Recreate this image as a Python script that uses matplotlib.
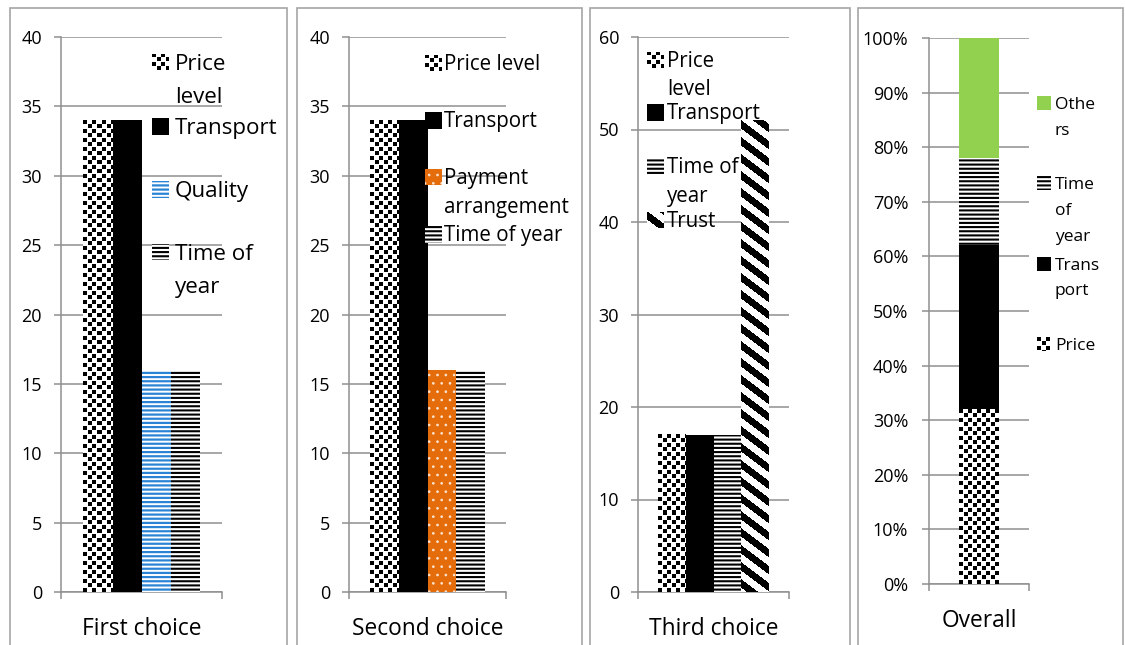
import numpy as np
import matplotlib.pyplot as plt
from matplotlib.colors import to_rgb
from matplotlib.patches import Rectangle

plt.rcParams['font.family'] = ['Open Sans', 'DejaVu Sans']

# -- survey answers per choice
first_labels = ['Price level', 'Transport', 'Quality', 'Time of year']
first_values = [34, 34, 16, 16]
second_labels = ['Price level', 'Transport', 'Payment arrangement', 'Time of year']
second_values = [34, 34, 16, 16]
third_labels = ['Price level', 'Transport', 'Time of year', 'Trust']
third_values = [17, 17, 17, 51]
overall_labels = ['Price', 'Transport', 'Time of year', 'Others']
overall_values = [32, 30, 16, 22]  # percent of all answers

W, H = 1125, 645
fig = plt.figure(figsize=(W / 100, H / 100), dpi=100)

GRID = '#8f8f8f'

# fill style per factor: face, edge (= hatch colour), hatch, hatch width, texture
styles = {
    'Price level': ('white', 'white', None, 1.0, 'confetti'),
    'Price': ('white', 'white', None, 1.0, 'confetti'),
    'Transport': ('black', 'black', None, 1.0, None),
    'Quality': ('white', '#2a83d4', '----', 1.6, None),
    'Time of year': ('white', 'black', '----', 1.5, None),
    'Payment arrangement': ('#e46c0a', '#fbe3cf', '..', 0.7, None),
    'Trust': ('white', 'white', None, 1.0, 'stripes'),
    'Others': ('#92d050', '#92d050', None, 1.0, None),
}


def pattern(kind, r, c):
    if kind == 'confetti':
        # staggered small black squares
        return ((r % 9 < 4) & (c % 9 < 4)) | ((r % 9 >= 4) & (r % 9 < 8) & (c % 9 >= 5))
    # wide stripes running down to the right
    return ((r - 0.75 * c) % 17) < 8.5


def texture(ax, patch, kind):
    x0, y0 = patch.get_x(), patch.get_y()
    x1, y1 = x0 + patch.get_width(), y0 + patch.get_height()
    (p0, q0), (p1, q1) = ax.transData.transform([(x0, y0), (x1, y1)])
    w, h = max(int(round(p1 - p0)), 1), max(int(round(q1 - q0)), 1)
    r, c = np.mgrid[0:h, 0:w]
    mask = pattern(kind, r, c)
    img = np.where(mask[..., None], np.array(to_rgb('black')), np.array(to_rgb('white')))
    ax.imshow(img, extent=(x0, x1, y0, y1), aspect='auto',
              interpolation='nearest', zorder=patch.get_zorder() + 0.1)


def paint(ax, patch, name):
    fc, ec, hatch, hlw, tex = styles[name]
    patch.set_facecolor(fc)
    patch.set_edgecolor(ec)
    patch.set_linewidth(0)
    if hatch:
        patch.set_hatch(hatch)
        if hasattr(patch, 'set_hatch_linewidth'):
            patch.set_hatch_linewidth(hlw)
    if tex:
        texture(ax, patch, tex)


def px_axes(l, r, t, b):
    return fig.add_axes([l / W, 1 - b / H, (r - l) / W, (b - t) / H])


def setup(ax, ymax, step, xlabel, pct=False, ypad=8.6):
    ax.set_xlim(-0.5, 0.5)
    ax.set_ylim(0, ymax)
    ticks = list(range(0, ymax + 1, step))
    ax.set_yticks(ticks)
    if pct:
        ax.set_yticklabels([f'{t}%' for t in ticks])
    ax.set_xticks([0])
    ax.set_xticklabels([xlabel], fontsize=16.4)
    ax.set_xticks([-0.5, 0.5], minor=True)
    ax.tick_params(axis='x', which='major', length=0, pad=18)
    ax.tick_params(axis='x', which='minor', length=5, width=1.1, color=GRID)
    ax.tick_params(axis='y', length=5, width=1.1, color=GRID, labelsize=13, pad=ypad)
    for s in ['top', 'right']:
        ax.spines[s].set_visible(False)
    for s in ['left', 'bottom']:
        ax.spines[s].set_color(GRID)
        ax.spines[s].set_linewidth(1.1)
    ax.yaxis.grid(True, color=GRID, linewidth=1.1)
    ax.set_axisbelow(True)


def grouped(ax, labels, values, width=0.183):
    for i, (lab, v) in enumerate(zip(labels, values)):
        bars = ax.bar((i - 1.5) * width, v, width, zorder=3)
        for b in bars:
            paint(ax, b, lab)


def legend(entries, text_x, handle_x, handle_size, size):
    # entries: (style name, [(text line, centre y px), ...])
    for name, lines in entries:
        y0 = lines[0][1]
        hx = px_axes(handle_x, handle_x + handle_size,
                     y0 - handle_size / 2, y0 + handle_size / 2)
        hx.set_xlim(0, 1)
        hx.set_ylim(0, 1)
        hx.axis('off')
        paint(hx, hx.add_patch(Rectangle((0, 0), 1, 1)), name)
        for txt, y in lines:
            base = y + 0.36 * size / 0.72
            fig.text(text_x / W, 1 - base / H, txt, fontsize=size,
                     va='baseline', ha='left')


# panel frames
for l, r in [(10, 287), (297, 582), (590, 850), (858, 1123)]:
    fig.add_artist(Rectangle((l / W, 1 - 660 / H), (r - l) / W, 652 / H,
                             transform=fig.transFigure, fill=False,
                             edgecolor='#a6a6a6', linewidth=1.2))

# First choice
ax1 = px_axes(61, 222, 37, 592)
setup(ax1, 40, 5, 'First choice')
grouped(ax1, first_labels, first_values)
legend([('Price level', [('Price', 62), ('level', 95)]),
        ('Transport', [('Transport', 126)]),
        ('Quality', [('Quality', 189)]),
        ('Time of year', [('Time of', 252), ('year', 285)])],
       175, 152, 17, 16.1)

# Second choice
ax2 = px_axes(349, 506, 37, 592)
setup(ax2, 40, 5, 'Second choice')
grouped(ax2, second_labels, second_values)
legend([('Price level', [('Price level', 63)]),
        ('Transport', [('Transport', 120)]),
        ('Payment arrangement', [('Payment', 177), ('arrangement', 206)]),
        ('Time of year', [('Time of year', 234)])],
       444, 425, 17, 14.8)

# Third choice
ax3 = px_axes(638, 789, 37, 592)
setup(ax3, 60, 10, 'Third choice')
grouped(ax3, third_labels, third_values)
legend([('Price level', [('Price', 60), ('level', 88)]),
        ('Transport', [('Transport', 112)]),
        ('Time of year', [('Time of', 166), ('year', 195)]),
        ('Trust', [('Trust', 220)])],
       667, 647, 17, 14.8)

# Overall, stacked to 100 %
ax4 = px_axes(929, 1029, 38, 584)
setup(ax4, 100, 10, 'Overall', pct=True, ypad=10)
bottom = 0
for lab, v in zip(overall_labels, overall_values):
    bars = ax4.bar(0, v, 0.40, bottom=bottom, zorder=3)
    for b in bars:
        paint(ax4, b, lab)
    bottom += v
legend([('Others', [('Othe', 103), ('rs', 129)]),
        ('Time of year', [('Time', 183), ('of', 209), ('year', 235)]),
        ('Transport', [('Trans', 264), ('port', 289)]),
        ('Price', [('Price', 344)])],
       1055, 1037, 14, 12.5)

fig.savefig('out.png', dpi=100)
